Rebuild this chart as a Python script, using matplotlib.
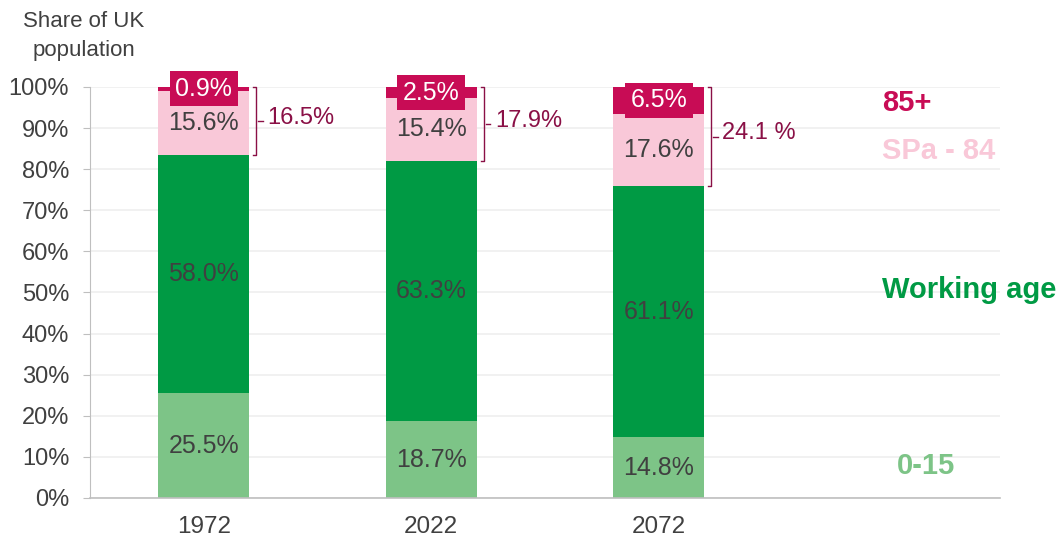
import numpy as np
import matplotlib.pyplot as plt

plt.rcParams['font.family'] = ['Liberation Sans', 'DejaVu Sans']

# data
years = ['1972', '2022', '2072']
young = [25.5, 18.7, 14.8]
working = [58.0, 63.3, 61.1]
spa84 = [15.6, 15.4, 17.6]
old85 = [0.9, 2.5, 6.5]
bracket_labels = ['16.5%', '17.9%', '24.1 %']

c_young = '#7DC487'
c_work = '#009A44'
c_spa = '#F9C8D8'
c_old = '#C80C55'
c_brk = '#8A1046'
c_txt = '#404040'

fig = plt.figure(figsize=(10.61, 5.36), dpi=100)
ax = fig.add_axes([0.0848, 0.0709, 0.8577, 0.7668])

x = np.arange(len(years)) + 0.5
w = 0.4

young = np.array(young)
working = np.array(working)
spa84 = np.array(spa84)
old85 = np.array(old85)

ax.bar(x, young, w, color=c_young, zorder=2)
ax.bar(x, working, w, bottom=young, color=c_work, zorder=2)
ax.bar(x, spa84, w, bottom=young + working, color=c_spa, zorder=2)
ax.bar(x, old85, w, bottom=young + working + spa84, color=c_old, zorder=2)

fs = 18
for i in range(len(years)):
    ax.text(x[i], young[i] / 2, '%.1f%%' % young[i], ha='center', va='center',
            fontsize=fs, color=c_txt, zorder=3)
    ax.text(x[i], young[i] + working[i] / 2, '%.1f%%' % working[i], ha='center',
            va='center', fontsize=fs, color=c_txt, zorder=3)
    ax.text(x[i], young[i] + working[i] + spa84[i] / 2, '%.1f%%' % spa84[i],
            ha='center', va='center', fontsize=fs, color=c_txt, zorder=3)
    top = young[i] + working[i] + spa84[i]
    ax.text(x[i], top + old85[i] / 2, '%.1f%%' % old85[i], ha='center',
            va='center', fontsize=fs, color='white', zorder=4,
            bbox=dict(boxstyle='square,pad=0.22', fc=c_old, ec='none'))

    # bracket around the SPa+ share
    lo = young[i] + working[i]
    hi = lo + spa84[i] + old85[i]
    bx = x[i] + w / 2 + 0.03
    hook = 0.012
    ax.plot([bx - hook, bx, bx, bx - hook], [hi, hi, lo, lo], color=c_brk,
            lw=1.0, zorder=3, clip_on=False)
    mid = (lo + hi) / 2
    ax.plot([bx + 0.01, bx + 0.03], [mid, mid], color=c_brk, lw=1.0, zorder=3)
    ax.text(bx + 0.05, mid + 0.8, bracket_labels[i], ha='left', va='center',
            fontsize=17, color=c_brk)

# series labels on the right
lfs = 21
ax.text(3.48, 96, '85+', fontsize=lfs, fontweight='bold', color=c_old,
        ha='left', va='center')
ax.text(3.48, 84.5, 'SPa - 84', fontsize=lfs, fontweight='bold', color=c_spa,
        ha='left', va='center')
ax.text(3.48, 50.5, 'Working age', fontsize=lfs, fontweight='bold', color=c_work,
        ha='left', va='center')
ax.text(3.545, 7.8, '0-15', fontsize=lfs, fontweight='bold', color=c_young,
        ha='left', va='center')

ax.set_xlim(0, 4)
ax.set_ylim(0, 100)
ax.set_yticks(np.arange(0, 101, 10))
ax.set_yticklabels(['%d%%' % v for v in range(0, 101, 10)])
ax.set_xticks(x)
ax.set_xticklabels(years)
ax.tick_params(axis='y', labelsize=17, colors='#BFBFBF', labelcolor=c_txt,
               length=5, pad=10)
ax.tick_params(axis='x', labelsize=17.5, labelcolor=c_txt, length=0, pad=13)

ax.grid(axis='y', color='#EFEFEF', lw=1.2, zorder=0)
ax.set_axisbelow(True)
for s in ['top', 'right']:
    ax.spines[s].set_visible(False)
ax.spines['left'].set_color('#BFBFBF')
ax.spines['bottom'].set_color('#BFBFBF')
ax.spines['bottom'].set_linewidth(1.2)

fig.text(0.079, 0.933, 'Share of UK\npopulation', ha='center', va='center',
         fontsize=16, color=c_txt, linespacing=1.55)

fig.savefig('out.png', dpi=100)
